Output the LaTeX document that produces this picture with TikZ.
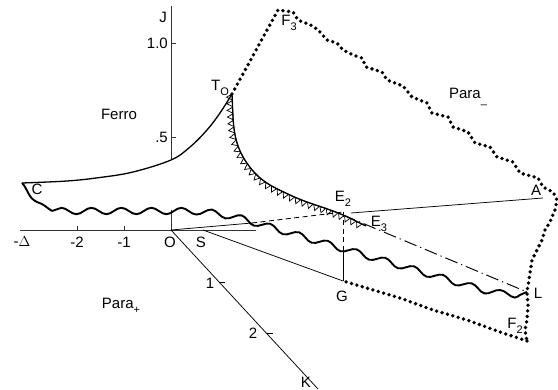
\documentclass[tikz,border=0pt]{standalone}
\usepackage{fontspec}
\setmainfont{Liberation Sans}
\usetikzlibrary{decorations.pathmorphing,decorations.markings,calc}
\newcommand\lsub[1]{\raisebox{-0.55ex}{\fontsize{11}{11}\selectfont #1}}
\begin{document}
\begin{tikzpicture}[x=1pt,y=-1pt,
  lbl/.style={font=\fontsize{15}{17}\selectfont, inner sep=0pt},
  thinln/.style={line width=0.75pt},
  axisln/.style={line width=0.65pt, black!80},
  bound/.style={line width=1.3pt},
  wavy/.style={line width=1.9pt, decorate, decoration={snake, segment length=30pt, amplitude=3.2pt}},
  wavyplain/.style={line width=1.9pt},
  dotln/.style={line width=3.8pt, line cap=round, dash pattern=on 0pt off 5.6pt},
  dashln/.style={line width=0.85pt, dash pattern=on 5pt off 3.5pt},
  dashdotln/.style={line width=0.95pt, dash pattern=on 13pt off 4pt on 1.2pt off 4pt},
  tri/.style={postaction={decorate, decoration={markings,
      mark=between positions 3pt and -2pt step 6.6pt with {\draw[line width=0.7pt, line join=miter] (-3pt,0pt) -- (3pt,0pt) -- (0pt,-5.6pt) -- cycle;}}}}
]
\useasboundingbox (0,0) rectangle (558,390);

% key points
\coordinate (O) at (171,230);
\coordinate (S) at (203,230);
\coordinate (Xl) at (20,230);
\coordinate (Xr) at (256,230);
\coordinate (Jt) at (171,6);
\coordinate (Jm) at (171,160);
\coordinate (Jw) at (171,210);
\coordinate (A) at (543,198);
\coordinate (K) at (318,389);
\coordinate (G) at (343,281);
\coordinate (Gw) at (343,251);
\coordinate (E2) at (343,212);
\coordinate (E2c) at (343,215);
\coordinate (Ow) at (252,223);
\coordinate (E3) at (366,226);
\coordinate (L) at (527,292);
\coordinate (T0) at (232,94);
\coordinate (C) at (22,183);
\coordinate (F2) at (527,341);
\coordinate (F3) at (278,10);

% axes
\draw[axisln] (Xl) -- (Xr);
\draw[axisln] (Jt) -- (Jm);
\draw[axisln] (O) -- (Jw);
\foreach \x in {77,124} \draw[axisln] (\x,230) -- (\x,226);
\foreach \y in {43,137} \draw[axisln] (171,\y) -- (176,\y);

% K line with ticks
\draw[thinln] (O) -- (K);
\coordinate (K1) at ($(O)!0.327!(K)$);
\coordinate (K2) at ($(O)!0.65!(K)$);
\draw[thinln] (K1) -- ++(6,0);
\draw[thinln] (K2) -- ++(6,0);

% O -- A line
\draw[thinln] (O) -- (Ow);
\draw[dashln] (Ow) -- (E2);
\draw[thinln] (351,213) -- (A);

% S -- G, vertical E2 -- G
\draw[thinln] (S) -- (G);
\draw[dashln] (E2) -- (Gw);
\draw[thinln] (Gw) -- (G);

% Ferro curve
\draw[bound] plot[smooth, tension=0.6] coordinates {(C) (67,181) (100,177.5) (133,172) (Jm) (190,147) (207,130) (220,113) (T0)};

% T0 -- E3 curve with triangles
\draw[bound, tri] (T0) to[out=-87, in=127] (249,166) to[out=-53, in=155] (290,195) to[out=-25, in=157] (E2c) to[out=-23, in=155] (E3);

% dash-dot line to L
\draw[dashdotln] (E2c) -- (L);

% wavy line
\draw[wavyplain] (C) .. controls (28,189) and (28,198) .. (37,202) .. controls (44,204) and (47,208) .. (52,211);
\draw[wavy] (52,211) -- (175,211) .. controls (200,211) and (215,214) .. (240,220) -- (470,288) .. controls (492,294) and (508,296) .. (L);

% dotted boundary
\draw[dotln] plot coordinates {(T0) (F3) (293,12) (298,20) (313,26) (320,32) (327,40) (337,43) (343,50) (353,55) (362,58) (366,67) (382,72) (387,80) (403,86) (412,97) (427,103) (432,113) (448,117) (453,127) (468,132) (475,143) (490,147) (497,157) (513,162) (520,173) (538,178) (543,187) (553,192) (557,200) (555,210) (550,222) (545,230) (542,240) (537,250) (532,260) (530,273) (L) (528,305) (527,320) (525,330) (F2)};
\draw[dotln] plot coordinates {(F2) (500,332) (467,320) (433,310) (400,298) (G)};

% labels
\node[lbl] (lJ) at (163,17) {J};
\node[lbl, anchor=east] (l10) at (168,43) {1.0};
\node[lbl, anchor=east] (l05) at (168,137) {.5};
\node[lbl] (lFerro) at (119,114) {Ferro};
\node[lbl] (lT0) at (220,88) {T\lsub{O}};
\node[lbl] (lF3) at (289,23) {F\lsub{3}};
\node[lbl] (lParam) at (468,97) {Para\lsub{\_}};
\node[lbl] (lC) at (37,189) {C};
\node[lbl] (lE2) at (343,199) {E\lsub{2}};
\node[lbl] (lE3) at (379,224) {E\lsub{3}};
\node[lbl] (lA) at (536,190) {A};
\node[lbl] (lL) at (538,293) {L};
\node[lbl] (lG) at (342,296) {G};
\node[lbl] (lF2) at (515,326) {F\lsub{2}};
\node[lbl] (lParap) at (121,306) {Para\lsub{+}};
\node[lbl] (lK) at (306,382) {K};
\node[lbl] (lD) at (22,242) {-$\Delta$};
\node[lbl] (lm2) at (77,242) {-2};
\node[lbl] (lm1) at (124,242) {-1};
\node[lbl] (lO) at (170,242) {O};
\node[lbl] (lS) at (201,242) {S};
\node[lbl] (l1) at (210,283) {1};
\node[lbl] (l2) at (253,333) {2};
\end{tikzpicture}
\end{document}
